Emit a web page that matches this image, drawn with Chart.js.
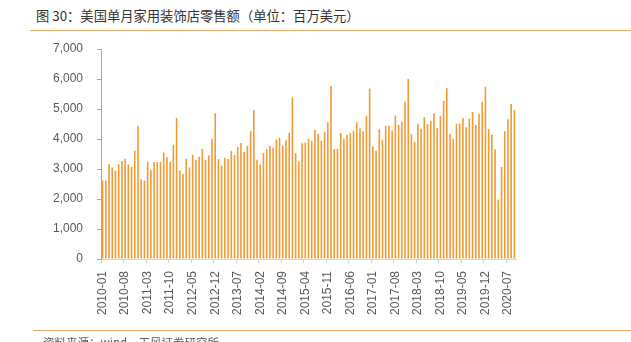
<!DOCTYPE html>
<html>
<head>
<meta charset="utf-8">
<script src="https://cdn.jsdelivr.net/npm/chart.js@4"></script>
<style>
    body { margin: 0; background: #fff; }
    #wrap { position: relative; width: 631px; height: 342px; overflow: hidden; }
    #title {
        position: absolute; left: 36px; top: 6px;
        font: 13.3px "Noto Sans CJK SC", sans-serif; color: #333; white-space: nowrap;
    }
    .rule { position: absolute; height: 1px; background: #f0a868; right: 0; }
    #source {
        position: absolute; left: 43px; top: 334px;
        font: 11.5px "Noto Sans CJK SC", sans-serif; color: #595959; white-space: nowrap;
    }
    #salesChart { position: absolute; left: 0; top: 0; }
</style>
</head>
<body>
<div id="wrap">
    <div id="title">图 30：美国单月家用装饰店零售额（单位：百万美元）</div>
    <div class="rule" style="left:30px; top:30px;"></div>
    <canvas id="salesChart" width="631" height="342"></canvas>
    <div class="rule" style="left:33px; top:330px;"></div>
    <div id="source">资料来源：wind，天风证券研究所</div>
</div>
<script>
// Monthly sales, millions of USD
const sales2010 = [2620, 2620, 3170, 3050, 2940, 3160, 3270, 3340, 3150, 3070, 3610, 4440];
const sales2011 = [2660, 2610, 3230, 2970, 3230, 3230, 3230, 3550, 3390, 3230, 3810, 4700];
const sales2012 = [2950, 2830, 3340, 3050, 3470, 3310, 3410, 3670, 3310, 3450, 4010, 4860];
const sales2013 = [3330, 3110, 3370, 3330, 3600, 3470, 3730, 3870, 3570, 3770, 4260, 4970];
const sales2014 = [3310, 3150, 3530, 3660, 3770, 3710, 3980, 4040, 3770, 3960, 4210, 5390];
const sales2015 = [3530, 3250, 3860, 3880, 4010, 3940, 4310, 4170, 3940, 4240, 4560, 5770];
const sales2016 = [3670, 3670, 4200, 4010, 4130, 4200, 4280, 4560, 4360, 4260, 4780, 5680];
const sales2017 = [3750, 3610, 4330, 3960, 4440, 4440, 4280, 4780, 4470, 4580, 5240, 6000];
const sales2018 = [4160, 3910, 4510, 4340, 4730, 4490, 4610, 4860, 4360, 4770, 5270, 5690];
const sales2019 = [4170, 4010, 4510, 4510, 4700, 4390, 4680, 4900, 4470, 4840, 5240, 5740];
const sales2020 = [4330, 4150, 3650, 1980, 3070, 4260, 4660, 5170, 4970];

const tickLabels = ['2010-01', '2010-08', '2011-03', '2011-10', '2012-05', '2012-12', '2013-07',
    '2014-02', '2014-09', '2015-04', '2015-11', '2016-06', '2017-01', '2017-08', '2018-03',
    '2018-10', '2019-05', '2019-12', '2020-07'];

const yearlySales = [sales2010, sales2011, sales2012, sales2013, sales2014, sales2015,
    sales2016, sales2017, sales2018, sales2019, sales2020];

// Build month categories from the yearly arrays
const months = [];
const sales = [];
yearlySales.forEach((list, y) => {
    list.forEach((v, m) => {
        months.push((2010 + y) + '-' + String(m + 1).padStart(2, '0'));
        sales.push(v);
    });
});

const tickFont = { family: '"Liberation Sans", Arial, sans-serif', size: 12 };

new Chart(document.getElementById('salesChart').getContext('2d'), {
    type: 'bar',
    data: {
        labels: months,
        datasets: [{
            data: sales,
            backgroundColor: '#f39a32',
            barPercentage: 0.5,
            categoryPercentage: 1.0
        }]
    },
    options: {
        responsive: false,
        animation: false,
        devicePixelRatio: 1,
        layout: { padding: { left: 0, top: 49, right: 115, bottom: 0 } },
        plugins: {
            legend: { display: false },
            tooltip: { enabled: false }
        },
        scales: {
            x: {
                grid: {
                    offset: true,
                    drawOnChartArea: false,
                    drawTicks: true,
                    tickLength: 4,
                    color: ctx => (ctx.index % 7 === 0 ? '#d0d0d0' : 'rgba(0,0,0,0)')
                },
                border: { display: true, color: '#d9d9d9' },
                ticks: {
                    autoSkip: false,
                    minRotation: 90,
                    maxRotation: 90,
                    padding: 8,
                    color: '#595959',
                    font: tickFont,
                    callback: function(value) {
                        const lab = this.getLabelForValue(value);
                        return tickLabels.includes(lab) ? lab : '';
                    }
                },
                afterFit: scale => { scale.height = 83; }
            },
            y: {
                min: 0,
                max: 7000,
                grid: {
                    drawOnChartArea: false,
                    drawTicks: true,
                    tickLength: 4,
                    color: '#a6a6a6'
                },
                border: { display: true, color: '#a6a6a6' },
                ticks: {
                    stepSize: 1000,
                    padding: 14,
                    color: '#595959',
                    font: tickFont,
                    callback: value => value.toLocaleString('en-US')
                },
                afterFit: scale => { scale.width = 101; }
            }
        }
    }
});
</script>
</body>
</html>
